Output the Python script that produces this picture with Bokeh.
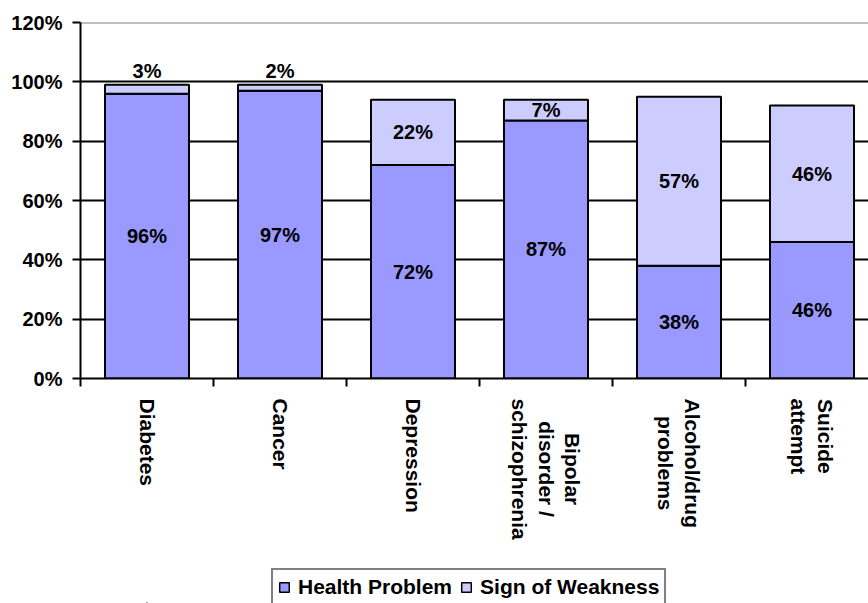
import math
import glob
from bokeh.plotting import figure
from bokeh.layouts import column
from bokeh.models import (Range1d, FixedTicker, PrintfTickFormatter, ColumnDataSource,
                          Legend, LegendItem, Span)
from bokeh.core.properties import value
from bokeh.embed import file_html
from bokeh.resources import INLINE

categories = ["Diabetes", "Cancer", "Depression", "Bipolar\ndisorder /\nschizophrenia",
              "Alcohol/drug\nproblems", "Suicide\nattempt"]
health_problem = [96, 97, 72, 87, 38, 46]
sign_of_weakness = [3, 2, 22, 7, 57, 46]
series_names = ["Health Problem", "Sign of Weakness"]
y_ticks = [0, 20, 40, 60, 80, 100, 120]

FONT = "Liberation Sans"
C_HEALTH = "#9999FF"
C_WEAK = "#CCCCFF"
CAT_FS = 21

n = len(categories)
xs = list(range(1, n + 1))
x_range = Range1d(0.5, 0.5 + 788 / 133)


def text_width(s, size):
    try:
        from PIL import ImageFont
        paths = glob.glob("/usr/share/fonts/**/LiberationSans-Bold.ttf", recursive=True)
        f = ImageFont.truetype(paths[0], size)
        return f.getlength(s)
    except Exception:
        return len(s) * 0.6 * size


p = figure(frame_width=788, frame_height=356, output_backend="svg", toolbar_location=None,
           x_range=x_range, y_range=Range1d(0, 120),
           min_border_left=80, min_border_right=0, min_border_top=22,
           min_border_bottom=20)
p.outline_line_color = None
p.background_fill_color = "white"
p.border_fill_color = "white"

tops2 = [h + w for h, w in zip(health_problem, sign_of_weakness)]
src = ColumnDataSource(dict(x=xs, h=health_problem, b2=health_problem, t2=tops2))

r1 = p.vbar(x="x", top="h", bottom=0, width=0.632, source=src,
            fill_color=C_HEALTH, line_color="black", line_width=2)
r2 = p.vbar(x="x", top="t2", bottom="b2", width=0.632, source=src,
            fill_color=C_WEAK, line_color="black", line_width=2)

# value labels
lx, ly, lt = [], [], []
for i in range(n):
    h = health_problem[i]
    w = sign_of_weakness[i]
    lx.append(xs[i]); ly.append(h / 2); lt.append(f"{h}%")
    lx.append(xs[i])
    ly.append(h + w + 4.5 if w < 5 else h + w / 2)
    lt.append(f"{w}%")
p.text(x=lx, y=ly, text=lt, text_align="center", text_baseline="middle",
       text_font=value(FONT), text_font_style="bold", text_font_size="20px",
       text_color="black")

# grid
p.xgrid.visible = False
p.ygrid.ticker = FixedTicker(ticks=[20, 40, 60, 80, 100])
p.ygrid.grid_line_color = "black"
p.ygrid.grid_line_width = 2
p.ygrid.level = "underlay"
p.add_layout(Span(location=120, dimension="width", line_color="#808080", line_width=2,
                  level="underlay"))

# y axis
p.yaxis.ticker = FixedTicker(ticks=y_ticks)
p.yaxis.formatter = PrintfTickFormatter(format="%d%%")
p.yaxis.axis_line_color = "black"
p.yaxis.axis_line_width = 2
p.yaxis.major_tick_line_color = "black"
p.yaxis.major_tick_line_width = 2
p.yaxis.major_tick_out = 8
p.yaxis.major_tick_in = 0
p.yaxis.minor_tick_line_color = None
p.yaxis.major_label_standoff = 10
p.yaxis.major_label_text_font = FONT
p.yaxis.major_label_text_font_style = "bold"
p.yaxis.major_label_text_font_size = "20px"
p.yaxis.major_label_text_color = "black"

# x axis (line and boundary ticks only; category names are drawn below)
p.xaxis.ticker = FixedTicker(ticks=xs, minor_ticks=[x - 0.5 for x in xs] + [n + 0.5])
p.xaxis.major_label_overrides = {x: "" for x in xs}
p.xaxis.major_label_standoff = 0
p.xaxis.axis_line_color = "black"
p.xaxis.axis_line_width = 2
p.xaxis.major_tick_line_color = None
p.xaxis.major_tick_out = 8
p.xaxis.major_tick_in = 0
p.xaxis.minor_tick_line_color = "black"
p.xaxis.minor_tick_line_width = 2
p.xaxis.minor_tick_out = 8
p.xaxis.minor_tick_in = 0

# strip below: category names + legend
STRIP_H = 205
s = figure(frame_width=788, frame_height=STRIP_H, output_backend="svg", toolbar_location=None,
           x_range=x_range, y_range=Range1d(0, STRIP_H),
           x_axis_location=None, y_axis_location=None,
           min_border_left=80, min_border_right=0, min_border_top=0, min_border_bottom=0)
s.outline_line_color = None
s.xgrid.visible = False
s.ygrid.visible = False
s.background_fill_color = "white"
s.border_fill_color = "white"

# each label block starts just below the axis; its lines are centred within the block
cat_y = [STRIP_H - max(text_width(line, CAT_FS) for line in c.split("\n")) / 2
         for c in categories]
s.text(x=xs, y=cat_y, text=categories, angle=-math.pi / 2,
       text_align="center", text_baseline="middle",
       text_font=value(FONT), text_font_style="bold", text_font_size=f"{CAT_FS}px",
       text_color="black", text_line_height=1.15)

# legend proxies (placed outside the visible y range so they never show)
proxy = ColumnDataSource(dict(x=[1], top=[-100], bottom=[-110]))
l1 = s.vbar(x="x", top="top", bottom="bottom", width=0.01, source=proxy,
            fill_color=C_HEALTH, line_color="black", line_width=1.5)
l2 = s.vbar(x="x", top="top", bottom="bottom", width=0.01, source=proxy,
            fill_color=C_WEAK, line_color="black", line_width=1.5)

legend = Legend(items=[LegendItem(label=series_names[0], renderers=[l1]),
                       LegendItem(label=series_names[1], renderers=[l2])],
                orientation="horizontal", location=(191, -3))
legend.label_text_font = FONT
legend.label_text_font_style = "bold"
legend.label_text_font_size = "21px"
legend.label_text_color = "black"
legend.glyph_width = 12
legend.glyph_height = 12
legend.label_standoff = 8
legend.spacing = 8
legend.padding = 5
legend.margin = 0
legend.border_line_color = "black"
legend.border_line_width = 2
legend.background_fill_color = "white"
s.add_layout(legend, "center")

layout = column(p, s, spacing=0)
open("out.html", "w").write(file_html(layout, INLINE))
